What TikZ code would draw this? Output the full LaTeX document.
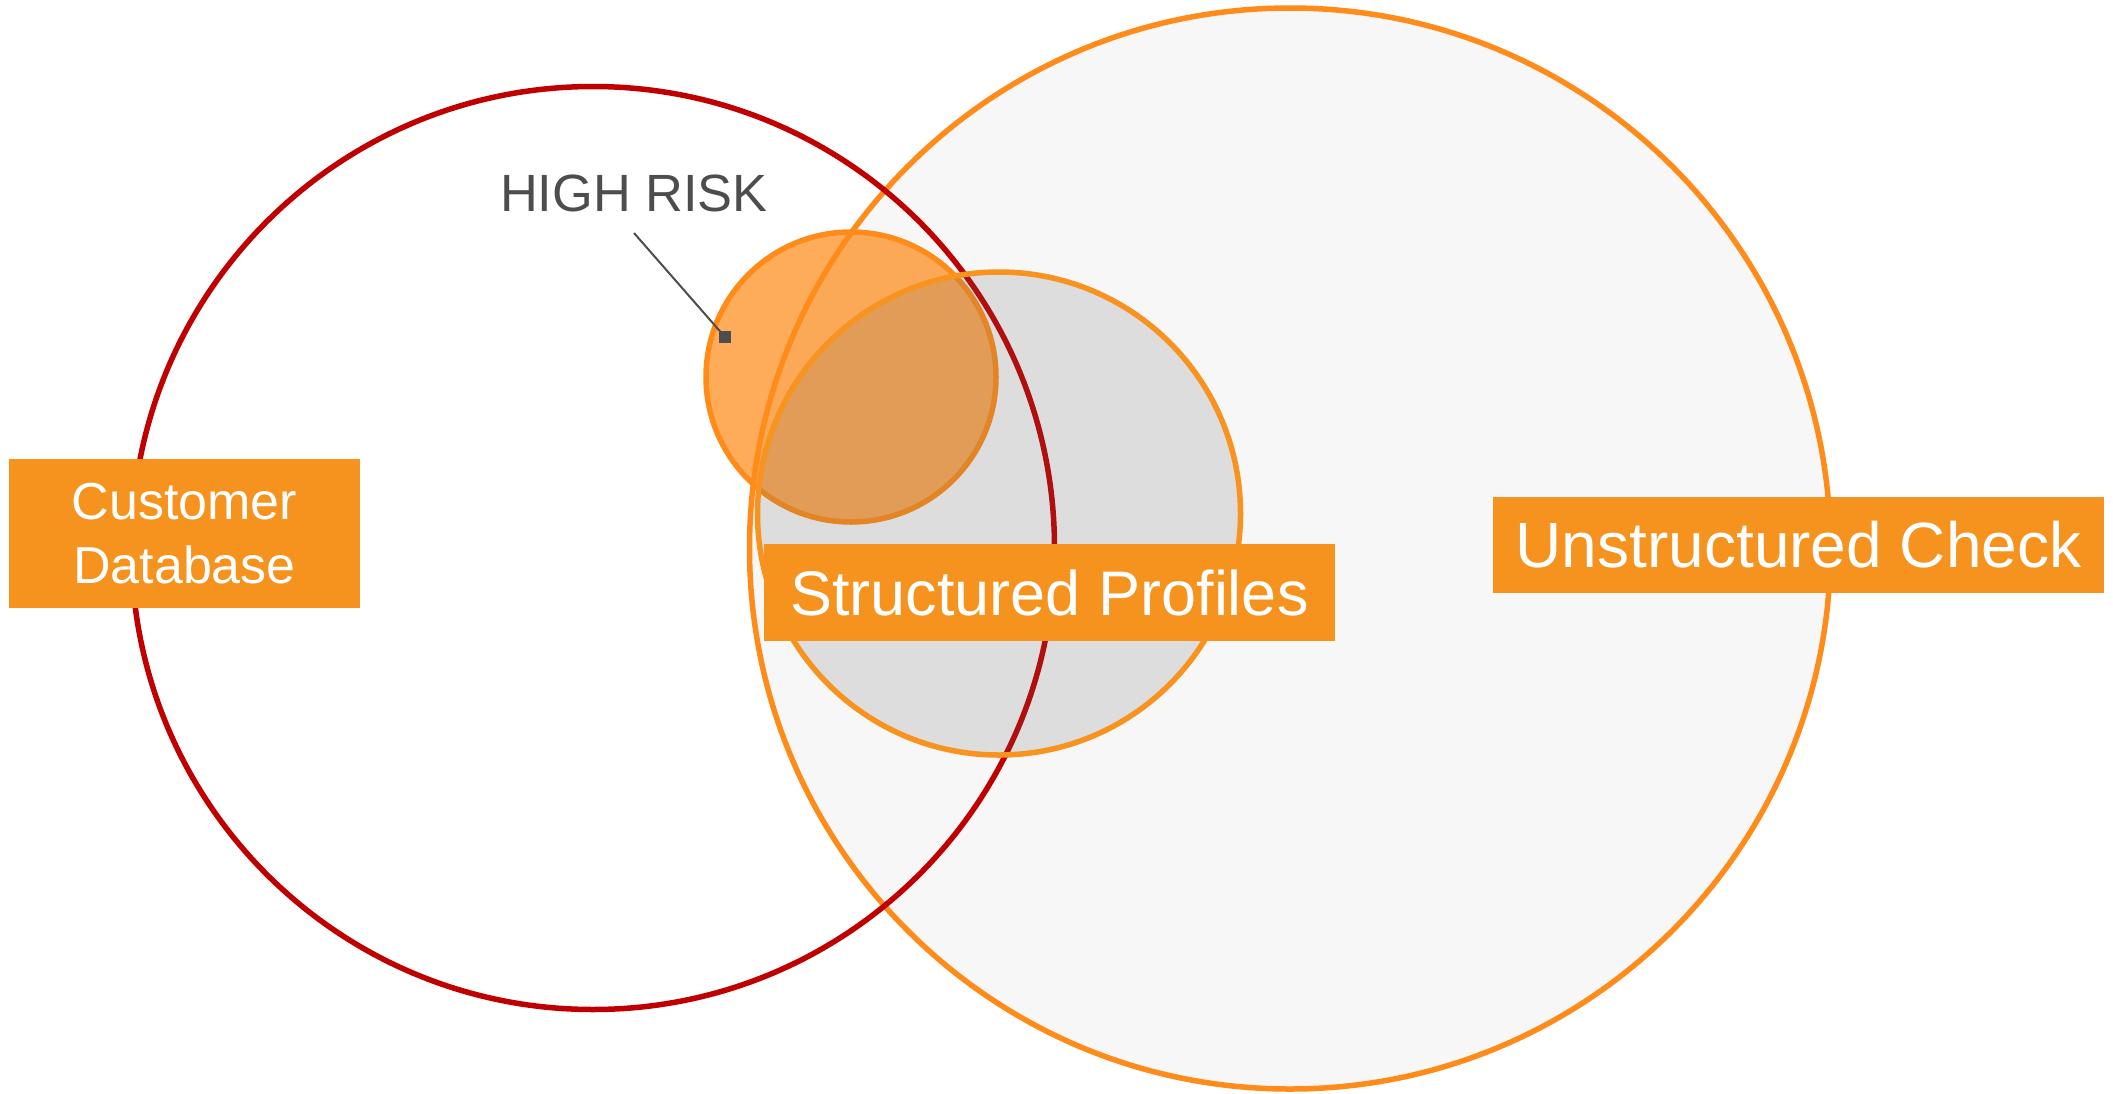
\documentclass[tikz,border=0pt]{standalone}
\usepackage{fontspec}
\setmainfont{Liberation Sans}
\definecolor{redc}{HTML}{C00000}
\definecolor{orangec}{HTML}{FF8C1A}
\definecolor{orange2}{HTML}{F7931E}
\definecolor{boxc}{HTML}{F6921E}
\definecolor{bigfill}{HTML}{F7F7F7}
\definecolor{graytx}{HTML}{4D4D4D}
\definecolor{grayov}{HTML}{5E5E5E}
\begin{document}
\begin{tikzpicture}[x=1pt,y=-1pt,
  lbl/.style={fill=boxc, text=white, inner sep=0pt, align=center},
  ring/.style={line width=5.5pt}]
\useasboundingbox (0,0) rectangle (2113,1093);
% circles
\coordinate (cBig) at (1290,548.5);
\coordinate (cRed) at (593,548);
\coordinate (cSmall) at (851,377);
\coordinate (cGray) at (999,513.5);
\draw[ring, draw=orangec, fill=bigfill] (cBig) circle[radius=540.5];
\draw[ring, draw=redc] (cRed) circle[radius=461.5];
\draw[ring, draw=orangec, fill=orangec, fill opacity=0.72] (cSmall) circle[radius=145];
\draw[ring, draw=orange2, fill=grayov, fill opacity=0.17] (cGray) circle[radius=241.5];
% labels
\node[lbl, minimum width=351, minimum height=149, font=\fontsize{52}{64}\selectfont] (cust) at (184.5,533.5) {Customer\\Database};
\node[lbl, minimum width=571, minimum height=97, font=\fontsize{63}{70}\selectfont] (struct) at (1049.5,592.5) {Structured Profiles};
\node[lbl, minimum width=611, minimum height=96, font=\fontsize{64}{70}\selectfont] (unstr) at (1798.5,545) {Unstructured Check};
% high risk
\node[text=graytx, anchor=base, inner sep=0pt, font=\fontsize{52.4}{60}\selectfont] (hr) at (634,211) {HIGH RISK};
\coordinate (hrstart) at (634,233);
\node[fill=graytx, minimum size=12, inner sep=0pt] (hrmark) at (725,337) {};
\draw[graytx, line width=2pt] (hrstart) -- (hrmark.center);
\end{tikzpicture}
\end{document}
